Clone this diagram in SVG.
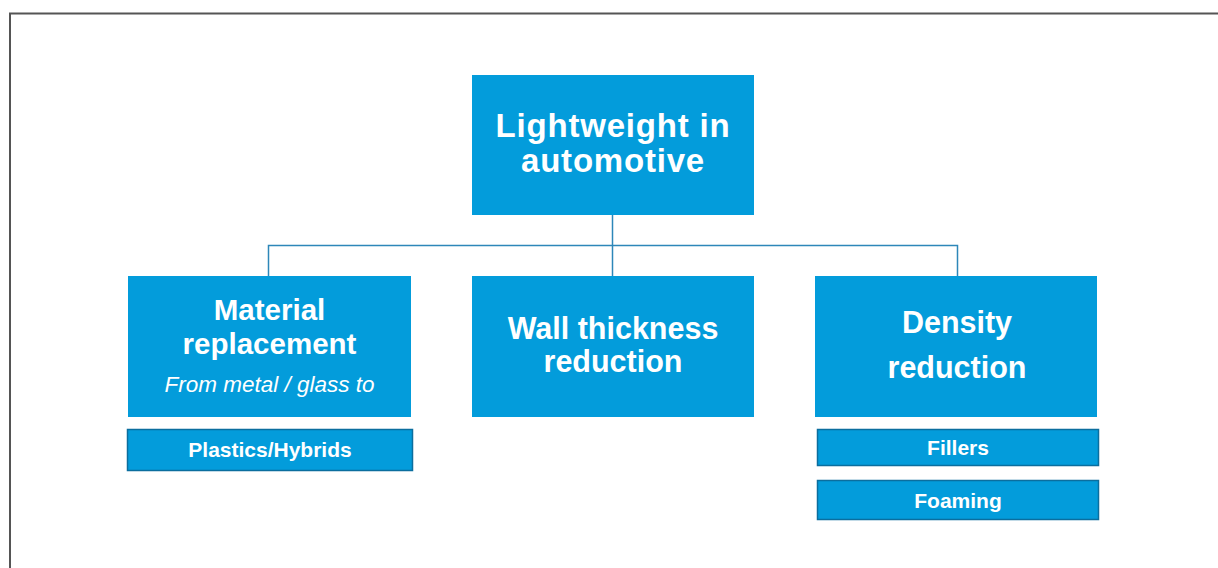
<svg xmlns="http://www.w3.org/2000/svg" width="1218" height="568" viewBox="0 0 1218 568">
<style>
.box{fill:#039cdb;}
.sub{fill:#039cdb;stroke:#0b6e9e;stroke-width:1.5;}
.t{fill:#ffffff;font-family:"Liberation Sans",Arial,sans-serif;font-weight:bold;text-anchor:middle;}
.it{fill:#ffffff;font-family:"Liberation Sans",Arial,sans-serif;font-style:italic;text-anchor:middle;}
.conn{fill:none;stroke:#2d87b9;stroke-width:1.5;}
</style>
<rect x="0" y="0" width="1218" height="568" fill="#ffffff"/>
<path d="M10,570 V13.5 H1220" fill="none" stroke="#555555" stroke-width="2"/>
<g id="connectors">
<path class="conn" d="M612.5,215 V276"/>
<path class="conn" d="M268.5,276 V245.5 H957.5 V276"/>
</g>
<g id="root">
<rect class="box" x="472" y="75" width="282" height="140"/>
<text class="t" x="613" y="137" font-size="33" letter-spacing="0.8">Lightweight in</text>
<text class="t" x="613" y="172" font-size="33" letter-spacing="0.8">automotive</text>
</g>
<g id="material">
<rect class="box" x="128" y="276" width="283" height="141"/>
<text class="t" x="269.5" y="320" font-size="29.5">Material</text>
<text class="t" x="269.5" y="354" font-size="29.5">replacement</text>
<text class="it" x="269.5" y="392" font-size="22.5">From metal / glass to</text>
</g>
<g id="plastics">
<rect class="sub" x="127.5" y="429.5" width="285" height="41"/>
<text class="t" x="270" y="457" font-size="21">Plastics/Hybrids</text>
</g>
<g id="wall">
<rect class="box" x="472" y="276" width="282" height="141"/>
<text class="t" x="613" y="339" font-size="30.5">Wall thickness</text>
<text class="t" x="613" y="372" font-size="30.5">reduction</text>
</g>
<g id="density">
<rect class="box" x="815" y="276" width="282" height="141"/>
<text class="t" x="957" y="333" font-size="30.5">Density</text>
<text class="t" x="957" y="378" font-size="30.5">reduction</text>
</g>
<g id="fillers">
<rect class="sub" x="817.5" y="429.5" width="281" height="36"/>
<text class="t" x="958" y="455" font-size="21">Fillers</text>
</g>
<g id="foaming">
<rect class="sub" x="817.5" y="480.5" width="281" height="39"/>
<text class="t" x="958" y="508" font-size="21">Foaming</text>
</g>
</svg>
